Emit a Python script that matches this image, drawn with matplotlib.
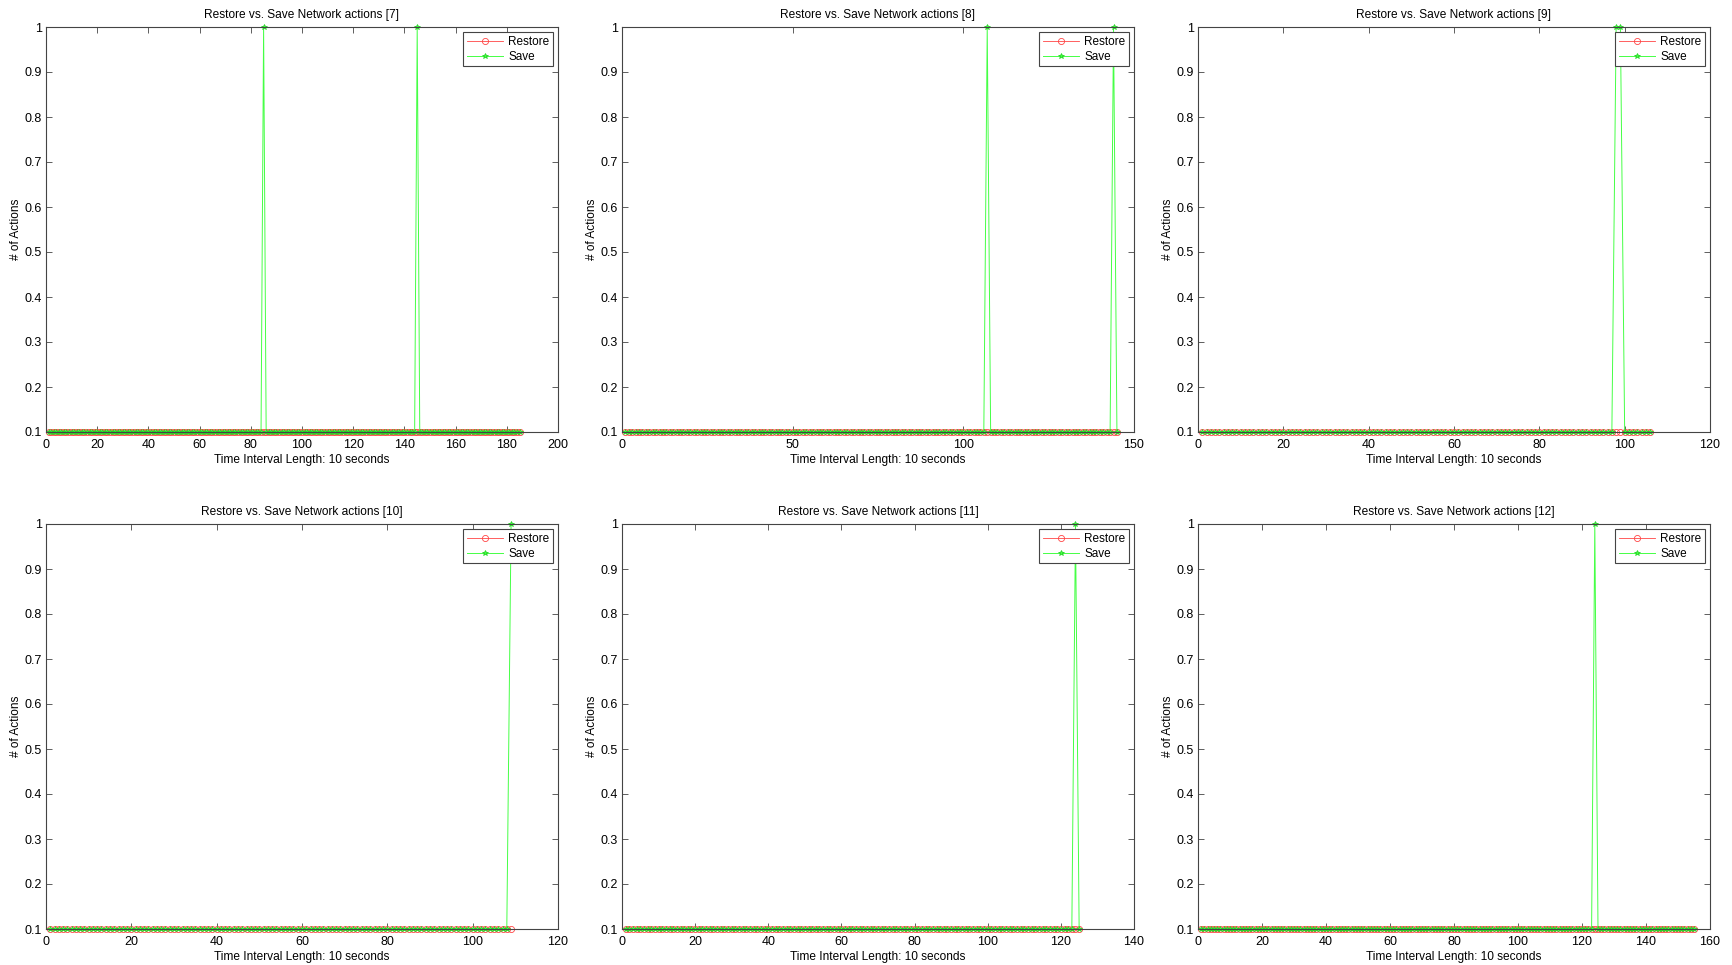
import numpy as np
import matplotlib
matplotlib.use("Agg")
import matplotlib.pyplot as plt

plt.rcParams['font.family'] = ['Liberation Sans', 'DejaVu Sans']

# run numbers shown in the titles
runs = [7, 8, 9, 10, 11, 12]
# number of time intervals in each run
lengths = [185, 145, 106, 109, 125, 155]
# intervals where a Save action happened (value 1)
save_spikes = [[85, 145], [107, 144], [98, 99], [109], [124], [124]]
# intervals with a Restore action (none in these runs)
restore_spikes = [[], [], [], [], [], []]
base_value = 0.1
spike_value = 1.0

xmax = [200, 150, 120, 120, 140, 160]
xstep = [20, 50, 20, 20, 20, 20]

# axes boxes in pixels: (left, right) and (top, bottom)
cols = [(46, 558), (622, 1134), (1198, 1710)]
rows = [(27, 432), (524, 929)]
W, H = 1732, 965

fig = plt.figure(figsize=(W / 100, H / 100), dpi=100)

for i in range(6):
    r, c = divmod(i, 3)
    (x0, x1), (y0, y1) = cols[c], rows[r]
    ax = fig.add_axes([x0 / W, 1 - y1 / H, (x1 - x0) / W, (y1 - y0) / H])

    n = lengths[i]
    x = np.arange(1, n + 1)
    restore = np.full(n, base_value)
    for s in restore_spikes[i]:
        restore[s - 1] = spike_value
    save = np.full(n, base_value)
    for s in save_spikes[i]:
        save[s - 1] = spike_value

    ax.plot(x, restore, color='#ff4545', marker='o', markersize=4.4,
            markerfacecolor='none', markeredgewidth=0.6, linewidth=0.6,
            label='Restore', clip_on=False)
    ax.plot(x, save, color='#45ff45', marker='*', markersize=4,
            markeredgecolor='#20d020', markeredgewidth=0.5, linewidth=0.7,
            label='Save', clip_on=False)

    ax.set_xlim(0, xmax[i])
    ax.set_ylim(0.1, 1)
    ax.set_xticks(np.arange(0, xmax[i] + 1, xstep[i]))
    yt = np.round(np.arange(0.1, 1.01, 0.1), 1)
    ax.set_yticks(yt)
    ax.set_yticklabels(['%g' % v for v in yt])

    ax.set_title('Restore vs. Save Network actions [%d]' % runs[i], fontsize=8.6, pad=6.5)
    ax.set_xlabel('Time Interval Length: 10 seconds', fontsize=8.6, labelpad=2)
    ax.set_ylabel('# of Actions', fontsize=8.6, labelpad=2)
    ax.tick_params(axis='x', pad=5)
    ax.tick_params(axis='y', pad=3)
    ax.tick_params(direction='in', length=4, width=0.6, labelsize=9,
                   top=True, right=True, colors='#444444', labelcolor='black')
    for sp in ax.spines.values():
        sp.set_color('#444444')
        sp.set_linewidth(0.8)

    leg = ax.legend(loc='upper right', fontsize=8.5, fancybox=False,
                    edgecolor='#444444', framealpha=1, borderaxespad=0.45,
                    handlelength=3.1, handletextpad=0.4, borderpad=0.3,
                    labelspacing=0.25)
    leg.get_frame().set_linewidth(0.8)

fig.savefig('out.png', dpi=100)
